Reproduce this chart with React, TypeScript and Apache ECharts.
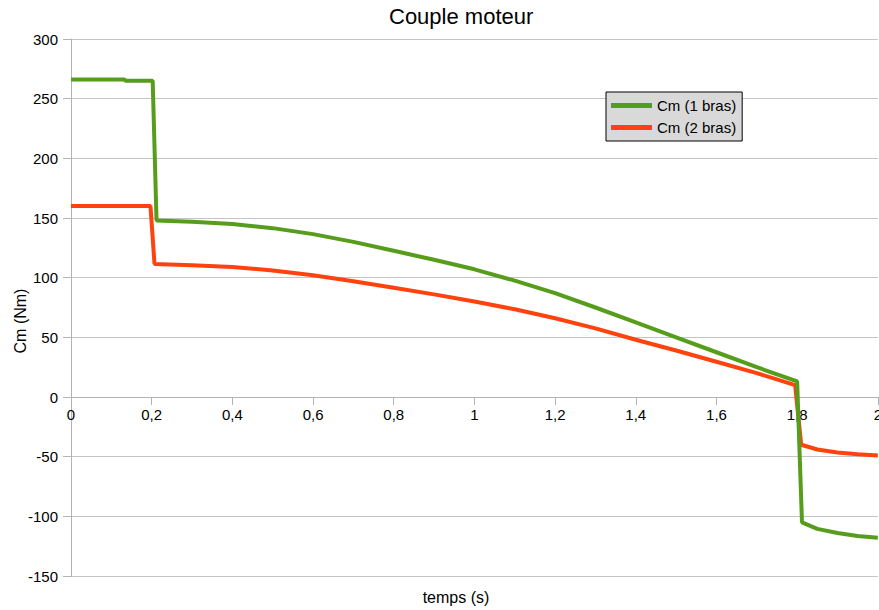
import React, { useEffect, useRef } from "react";
import * as echarts from "echarts";

const TITLE = "Couple moteur";
const X_NAME = "temps (s)";
const Y_NAME = "Cm (Nm)";
const SERIES_NAMES = ["Cm (1 bras)", "Cm (2 bras)"];

const greenTimes = [0, 0.133, 0.135, 0.2025, 0.212, 0.3, 0.4, 0.5, 0.6, 0.7, 0.8, 0.9, 1.0, 1.1, 1.2, 1.3, 1.4, 1.5, 1.6, 1.7, 1.8, 1.812, 1.85, 1.9, 1.95, 2.0];
const greenValues = [266, 266, 265, 265, 148, 146.8, 145, 141.5, 136.5, 130, 122.5, 115, 107, 97.5, 87, 75, 62.5, 50, 37.5, 25, 13, -105, -110.5, -114, -116.5, -118];

const redTimes = [0, 0.197, 0.207, 0.3, 0.4, 0.5, 0.6, 0.7, 0.8, 0.9, 1.0, 1.1, 1.2, 1.3, 1.4, 1.5, 1.6, 1.7, 1.795, 1.81, 1.85, 1.9, 1.95, 2.0];
const redValues = [160, 160, 111.5, 110.5, 109, 106, 102, 97, 91.5, 86, 80, 73.5, 66, 57.5, 48, 39, 29.5, 20, 10, -40, -44, -46.5, -48, -49];

const FONT = "Liberation Sans";

export default function App() {
  const ref = useRef<HTMLDivElement>(null);
  useEffect(() => {
    if (!ref.current) return;
    const chart = echarts.init(ref.current, null, { renderer: "svg" });
    const toPairs = (t: number[], v: number[]) => t.map((x, i) => [x, v[i]]);
    chart.setOption({
      animation: false,
      backgroundColor: "#ffffff",
      title: {
        text: TITLE,
        left: 389,
        top: 5,
        padding: 0,
        textStyle: { fontFamily: FONT, fontSize: 22, fontWeight: "normal", color: "#000" },
      },
      legend: {
        data: SERIES_NAMES,
        orient: "vertical",
        left: 606,
        top: 92,
        padding: [6, 6, 6, 5],
        itemGap: 7,
        itemWidth: 41,
        itemHeight: 5,
        icon: "rect",
        backgroundColor: "#d9d9d9",
        borderColor: "#000",
        borderWidth: 1,
        borderRadius: 0,
        textStyle: { fontFamily: FONT, fontSize: 15, color: "#000", lineHeight: 15 },
      },
      grid: { left: 71, top: 39, right: 4, bottom: 34, containLabel: false },
      xAxis: {
        type: "value",
        position: "bottom",
        offset: -179,
        min: 0,
        max: 2,
        interval: 0.2,
        axisLine: { show: true, onZero: false, lineStyle: { color: "#b3b3b3", width: 1 } },
        axisTick: { show: true, length: 8, lineStyle: { color: "#b3b3b3" } },
        splitLine: { show: false },
        axisLabel: {
          margin: 10,
          fontFamily: FONT,
          fontSize: 15,
          color: "#000",
          formatter: (v: number) => String(+v.toFixed(1)).replace(".", ","),
        },
      },
      yAxis: {
        type: "value",
        min: -150,
        max: 300,
        interval: 50,
        axisLine: { show: true, onZero: false, lineStyle: { color: "#b3b3b3", width: 1 } },
        axisTick: { show: true, length: 8, lineStyle: { color: "#b3b3b3" } },
        splitLine: { show: true, lineStyle: { color: "#c4c4c4", width: 1 } },
        axisLabel: { margin: 13, fontFamily: FONT, fontSize: 15, color: "#000" },
      },
      graphic: [
        {
          type: "text",
          x: 20,
          y: 321,
          rotation: Math.PI / 2,
          style: {
            text: Y_NAME,
            fontFamily: FONT,
            fontSize: 16,
            fill: "#000",
            align: "center",
            verticalAlign: "middle",
          },
        },
        {
          type: "text",
          x: 456,
          y: 597,
          style: {
            text: X_NAME,
            fontFamily: FONT,
            fontSize: 16,
            fill: "#000",
            align: "center",
            verticalAlign: "middle",
          },
        },
      ],
      series: [
        {
          name: SERIES_NAMES[1],
          type: "line",
          data: toPairs(redTimes, redValues),
          showSymbol: false,
          symbol: "none",
          color: "#ff420e",
          lineStyle: { width: 4, color: "#ff420e" },
        },
        {
          name: SERIES_NAMES[0],
          type: "line",
          data: toPairs(greenTimes, greenValues),
          showSymbol: false,
          symbol: "none",
          color: "#579d1c",
          lineStyle: { width: 4, color: "#579d1c" },
        },
      ],
    });
    return () => chart.dispose();
  }, []);
  return (
    <div style={{ position: "absolute", left: 0, top: 0, width: 879, height: 610, overflow: "hidden", background: "#fff" }}>
      <div ref={ref} style={{ width: 885, height: 610 }} />
    </div>
  );
}
